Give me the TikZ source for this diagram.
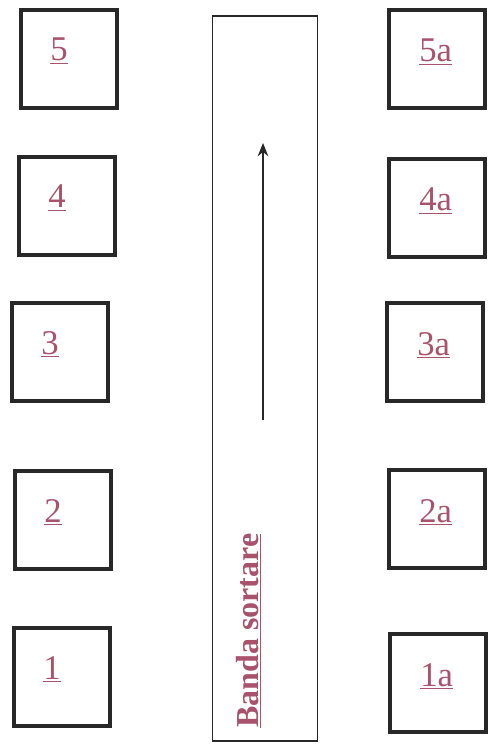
\documentclass[tikz,border=0pt]{standalone}
\usepackage{fontspec}
\setmainfont{Liberation Serif}
\usetikzlibrary{arrows.meta}
\definecolor{labelpink}{RGB}{168,82,108}
\definecolor{boxgray}{RGB}{40,40,40}
\begin{document}
\begin{tikzpicture}[x=0.75pt,y=-0.75pt,>=stealth,
 cell/.style={draw=boxgray,line width=3pt,minimum width=72pt,minimum height=73pt,inner sep=0pt},
 num/.style={text=labelpink,font=\fontsize{26}{28}\selectfont,inner sep=0pt},
 belt/.style={draw=boxgray,line width=1.1pt,minimum width=78.5pt,minimum height=544pt,inner sep=0pt}]
 \useasboundingbox (0,0) rectangle (489,745);
 \node[belt] (band) at (265,378.5) {};
 \foreach \n/\x/\y in {5/69/59,4/67/206,3/60/352,2/63/520,1/62/677}{
  \node[cell] (c\n) at (\x,\y) {};
  \node[num,anchor=base west] (n\n) at (\x-19,\y+2) {\underline{\n}};
 }
 \foreach \n/\x/\y in {5/437/59,4/437/208,3/435/352,2/437/519,1/438/683}{
  \node[cell] (ca\n) at (\x,\y) {};
  \node[num,anchor=base west] (na\n) at (\x-18,\y+3) {\underline{\n a}};
 }
 \coordinate (tail) at (263,420); \coordinate (head) at (263,143);
 \draw[boxgray,line width=1.3pt,-{Stealth[length=10pt,width=8pt]}] (tail) -- (head);
 \node[num,font=\fontsize{24}{26}\selectfont\bfseries,rotate=90,anchor=base west] (bandtext) at (258,728) {\underline{Banda sortare}};
\end{tikzpicture}
\end{document}
